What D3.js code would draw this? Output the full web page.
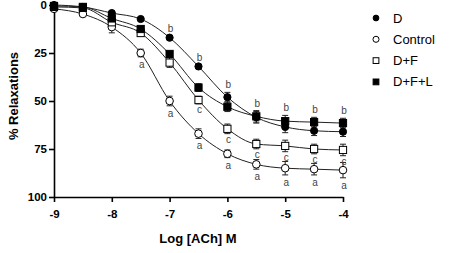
<!DOCTYPE html>
<meta charset="utf-8">
<script src="https://d3js.org/d3.v7.min.js"></script>
<style>
  body { margin: 0; background: #fff; }
  text { font-family: Arial, "Liberation Sans", sans-serif; }
</style>
<body>
<div id="graph"></div>
</body>
<script>

    // log [ACh] concentrations
    var logConc = [-9, -8.5, -8, -7.5, -7, -6.5, -6, -5.5, -5, -4.5, -4];

    // % relaxation means
    var dMean     = [0, 1, 4.2, 7.3, 17, 32, 48, 58.5, 63.5, 65.5, 66];
    var ctrlMean  = [2, 4.7, 11.5, 25, 50, 67, 77.5, 83, 85, 85.5, 86];
    var dfMean    = [1, 1.5, 9, 14.6, 30, 49.5, 64.5, 72.4, 73.4, 75, 75.5];
    var dflMean   = [0.5, 1, 7, 12.5, 25.5, 43, 53, 58, 60.5, 61, 61.5];

    // SEM
    var dSem    = [0, 0, 1, 0.5, 1, 1, 2.5, 3, 3, 2.5, 2.5];
    var ctrlSem = [0, 1, 3, 2, 2.5, 2.5, 2, 2.5, 3.5, 3, 4];
    var dfSem   = [0, 0, 2, 1.5, 2.5, 2, 2.5, 2.5, 3, 2.5, 3];
    var dflSem  = [0, 0, 1, 1, 1, 2, 2.5, 3, 3, 2.5, 2.5];

    var seriesNames = ["D", "Control", "D+F", "D+F+L"];

    // significance letters: [logConc, letter, series index, "above"/"below"]
    var letters = [
        [-7, "b", 0, "above"], [-6.5, "b", 0, "above"], [-6, "b", 0, "above"],
        [-5.5, "b", 3, "above"], [-5, "b", 3, "above"], [-4.5, "b", 3, "above"], [-4, "b", 3, "above"],
        [-7.5, "a", 1, "below"], [-7, "a", 1, "below"], [-6.5, "a", 1, "below"], [-6, "a", 1, "below"],
        [-5.5, "a", 1, "below"], [-5, "a", 1, "below"], [-4.5, "a", 1, "below"], [-4, "a", 1, "below"],
        [-6.5, "c", 2, "below"], [-6, "c", 2, "below"], [-5.5, "c", 2, "below"],
        [-5, "c", 2, "below"], [-4.5, "c", 2, "below"], [-4, "c", 2, "below"]
    ];

    var xTicks = [-9, -8, -7, -6, -5, -4];
    var yTicks = [0, 25, 50, 75, 100];

    var means = [dMean, ctrlMean, dfMean, dflMean];
    var sems = [dSem, ctrlSem, dfSem, dflSem];
    var series = seriesNames.map(function (name, i) {
        return {
            name: name, idx: i,
            values: logConc.map(function (c, j) {
                return {x: c, v: means[i][j], e: sems[i][j]};
            })
        };
    });

    // Set dimensions
    var margin = {top: 5, right: 120, bottom: 56, left: 54},
        width = 463 - margin.left - margin.right,
        height = 253 - margin.top - margin.bottom;

    var svg = d3.select("#graph")
        .append("svg")
        .attr("width", 463)
        .attr("height", 253);

    var plot = svg.append("g")
        .attr("transform", "translate(" + margin.left + "," + margin.top + ")");

    var x = d3.scaleLinear().domain([-9, -4]).range([0, width]);
    var y = d3.scaleLinear().domain([0, 100]).range([0, height]);

    // Axes
    var xAxis = plot.append("g")
        .attr("transform", "translate(0," + height + ")")
        .call(d3.axisBottom(x).tickValues(xTicks).tickSize(5).tickSizeOuter(0)
            .tickFormat(function (d) { return d; }));
    var yAxis = plot.append("g")
        .call(d3.axisLeft(y).tickValues(yTicks).tickSize(5).tickSizeOuter(0));

    [xAxis, yAxis].forEach(function (a) {
        a.selectAll("path, line").attr("stroke", "#000").attr("stroke-width", 1.6);
        a.selectAll("text")
            .attr("fill", "#000")
            .style("font-size", "11.5px")
            .style("font-weight", "bold");
    });
    xAxis.selectAll("text").attr("dy", "1.1em");
    yAxis.selectAll("text").attr("x", -7);

    // Axis labels
    svg.append("text")
        .attr("text-anchor", "middle")
        .attr("x", 198)
        .attr("y", 243)
        .style("font-size", "13px")
        .style("font-weight", "bold")
        .text("Log [ACh] M");

    svg.append("text")
        .attr("text-anchor", "middle")
        .attr("transform", "translate(18,96) rotate(-90)")
        .style("font-size", "13px")
        .style("font-weight", "bold")
        .text("% Relaxations");

    // Curves
    var line = d3.line()
        .x(function (d) { return x(d.x); })
        .y(function (d) { return y(d.v); })
        .curve(d3.curveMonotoneX);

    plot.selectAll(".curve")
        .data(series)
        .enter()
        .append("path")
        .attr("class", "curve")
        .attr("fill", "none")
        .attr("stroke", "#222")
        .attr("stroke-width", 1)
        .attr("d", function (d) { return line(d.values); });

    // Error bars
    var errs = [];
    series.forEach(function (s) {
        s.values.forEach(function (p) { if (p.e > 0.8) errs.push(p); });
    });
    var eg = plot.append("g").attr("stroke", "#222").attr("stroke-width", 1);
    errs.forEach(function (p) {
        var cx = x(p.x), y1 = y(p.v - p.e), y2 = y(p.v + p.e);
        eg.append("line").attr("x1", cx).attr("x2", cx).attr("y1", y1).attr("y2", y2);
        eg.append("line").attr("x1", cx - 3).attr("x2", cx + 3).attr("y1", y1).attr("y2", y1);
        eg.append("line").attr("x1", cx - 3).attr("x2", cx + 3).attr("y1", y2).attr("y2", y2);
    });

    // Markers
    function drawMarker(g, idx, cx, cy, big) {
        var s = big ? 1 : 0.8;
        if (idx === 0 || idx === 1) {
            g.append("circle")
                .attr("cx", cx).attr("cy", cy)
                .attr("r", (idx === 0 ? 3.6 : 3.8) * s)
                .attr("fill", idx === 0 ? "#000" : "#fff")
                .attr("stroke", "#000")
                .attr("stroke-width", 1);
        } else {
            var h = 3.6 * s;
            g.append("rect")
                .attr("x", cx - h).attr("y", cy - h)
                .attr("width", 2 * h).attr("height", 2 * h)
                .attr("fill", idx === 3 ? "#000" : "#fff")
                .attr("stroke", "#000")
                .attr("stroke-width", 1);
        }
    }

    // draw order: control, D+F, D+F+L, D on top
    [1, 2, 3, 0].forEach(function (i) {
        var g = plot.append("g");
        series[i].values.forEach(function (p) {
            drawMarker(g, i, x(p.x), y(p.v), true);
        });
    });

    // Significance letters
    plot.append("g")
        .selectAll("text")
        .data(letters)
        .enter()
        .append("text")
        .attr("text-anchor", "middle")
        .attr("fill", "#444")
        .style("font-size", "10px")
        .attr("x", function (d) { return x(d[0]) + 1; })
        .attr("y", function (d) {
            var j = logConc.indexOf(d[0]);
            var v = means[d[2]][j], e = sems[d[2]][j];
            if (d[3] === "above") return y(v - e) - 4;
            return y(v + e) + (d[1] === "c" ? 9 : 11);
        })
        .text(function (d) { return d[1]; });

    // Legend
    var legend = svg.append("g").attr("transform", "translate(376,18)");
    seriesNames.forEach(function (name, i) {
        var row = legend.append("g").attr("transform", "translate(0," + (i * 21.3) + ")");
        drawMarker(row, i, 0, 0, false);
        row.append("text")
            .attr("x", 17)
            .attr("y", 0)
            .attr("dy", "0.35em")
            .style("font-size", "13px")
            .text(name);
    });

</script>
